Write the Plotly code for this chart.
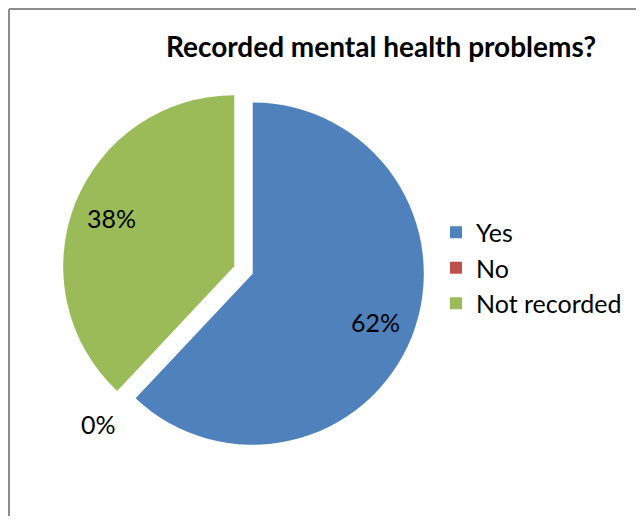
import math
import plotly.graph_objects as go

labels = ["Yes", "No", "Not recorded"]
values = [62, 0, 38]
colors = ["#4F81BD", "#C0504D", "#9BBB59"]
pulls = [0.058, 0.0, 0.058]

# Page body has an 8px margin; figure sized to fit the 644x524 window exactly.
W, H = 628, 508
FONT = "Lato"

# pie geometry (figure pixels)
CX, CY, HALF = 235.5, 262.0, 181.0
R = HALF / (1 + max(pulls))

fig = go.Figure()
fig.add_trace(go.Pie(
    labels=labels,
    values=values,
    marker=dict(colors=colors, line=dict(width=0)),
    pull=pulls,
    sort=False,
    direction="clockwise",
    rotation=0,
    textinfo="none",
    domain=dict(x=[(CX - HALF) / W, (CX + HALF) / W],
                y=[1 - (CY + HALF) / H, 1 - (CY - HALF) / H]),
    showlegend=True,
))

# data labels placed along each slice's bisector, text from the data
total = sum(values)
annotations = []
start = 0.0
for lab, v, p in zip(labels, values, pulls):
    frac = v / total
    mid = math.radians((start + frac / 2) * 360)
    dist = 0.77 * R if v > 0 else 1.235 * R
    ox = CX + p * R * math.sin(mid)
    oy = CY - p * R * math.cos(mid)
    x = ox + dist * math.sin(mid)
    y = oy - dist * math.cos(mid)
    annotations.append(dict(
        x=x / W, y=1 - y / H, xref="paper", yref="paper",
        text=f"{frac:.0%}", showarrow=False,
        xanchor="center", yanchor="middle",
        font=dict(family=FONT, size=25, color="black"),
    ))
    start += frac

fig.update_layout(
    width=W, height=H,
    margin=dict(l=0, r=0, t=0, b=0),
    paper_bgcolor="white",
    plot_bgcolor="white",
    title=dict(text="<b>Recorded mental health problems?</b>",
               x=373 / W, y=1 - 39 / H, xanchor="center", yanchor="middle",
               xref="container", yref="container",
               font=dict(family=FONT, size=28, color="black")),
    legend=dict(x=428 / W, y=1 - 260 / H, xanchor="left", yanchor="middle",
                font=dict(family=FONT, size=25, color="black"),
                bgcolor="rgba(0,0,0,0)"),
    annotations=annotations,
    shapes=[
        dict(type="line", xref="paper", yref="paper", x0=1 / W, x1=1.0, y0=1 - 1 / H, y1=1 - 1 / H,
             line=dict(color="#8C8C8C", width=2)),
        dict(type="line", xref="paper", yref="paper", x0=1 / W, x1=1 / W, y0=0, y1=1 - 1 / H,
             line=dict(color="#8C8C8C", width=2)),
    ],
)

fig.write_html("out.html")
